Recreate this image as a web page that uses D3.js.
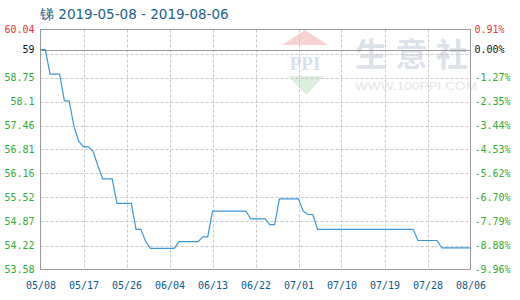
<!DOCTYPE html>
<html>
<head>
<meta charset="utf-8">
<script src="https://cdn.jsdelivr.net/npm/d3@7"></script>
<style>
  html, body { margin: 0; padding: 0; background: #fff; }
  svg { display: block; }
</style>
</head>
<body>
<svg id="chart" width="520" height="300"></svg>
<script>
// Antimony (锑) daily price, 2019-05-08 .. 2019-08-06
const startDate = "2019-05-08";
const endDate = "2019-08-06";
const prices = [
  59.50, 59.50, 58.84, 58.84, 58.84, 58.12, 58.12, 57.43, 57.03, 56.88,
  56.88, 56.76, 56.38, 56.02, 56.02, 56.02, 55.36, 55.36, 55.36, 55.36,
  54.66, 54.66, 54.34, 54.15, 54.15, 54.15, 54.15, 54.15, 54.15, 54.33,
  54.33, 54.33, 54.33, 54.33, 54.46, 54.46, 55.15, 55.15, 55.15, 55.15,
  55.15, 55.15, 55.15, 55.15, 54.94, 54.94, 54.94, 54.94, 54.79, 54.79,
  55.48, 55.48, 55.48, 55.48, 55.48, 55.15, 55.06, 55.06, 54.66, 54.66,
  54.66, 54.66, 54.66, 54.66, 54.66, 54.66, 54.66, 54.66, 54.66, 54.66,
  54.66, 54.66, 54.66, 54.66, 54.66, 54.66, 54.66, 54.66, 54.66, 54.36,
  54.36, 54.36, 54.36, 54.36, 54.16, 54.16, 54.16, 54.16, 54.16, 54.16,
  54.16
];
const yMax = 60.04;
const yMin = 53.58;
const baseValue = 59.50;
// value-axis labels, top to bottom; the second row sits on the base line
const leftTickLabels = ["60.04", "59", "58.75", "58.1", "57.46", "56.81",
                        "56.16", "55.52", "54.87", "54.22", "53.58"];
const rightTickLabels = ["0.91%", "0.00%", "-1.27%", "-2.35%", "-3.44%", "-4.53%",
                         "-5.62%", "-6.70%", "-7.79%", "-8.88%", "-9.96%"];
const xTickLabels = ["05/08", "05/17", "05/26", "06/04", "06/13", "06/22",
                     "07/01", "07/10", "07/19", "07/28", "08/06"];

const parse = d3.utcParse("%Y-%m-%d");
const t0 = parse(startDate);
const t1 = parse(endDate);
const DAY = 86400000;
const series = prices.map((v, i) => ({ date: new Date(+t0 + i * DAY), value: v }));

const svg = d3.select("#chart");
const plotLeft = 40.5, plotRight = 470.5, plotTop = 29.5, plotBottom = 269.5;

const x = d3.scaleUtc().domain([t0, t1]).range([plotLeft, plotRight]);
const y = d3.scaleLinear().domain([yMin, yMax]).range([plotBottom, plotTop]);

// evenly spaced horizontal grid values (10 intervals)
const gridValues = d3.range(11).map(i => yMax - i * (yMax - yMin) / 10);
const xTickDates = xTickLabels.map((_, i) => new Date(+t0 + i * 9 * DAY));

// label positions: top, base line, then the remaining grid rows
const labelValues = [yMax, baseValue].concat(gridValues.slice(2));
const labelColor = i => i === 0 ? "#ee3333" : (i === 1 ? "#111" : "#33aa33");

// watermark
const wm = svg.append("g").attr("class", "watermark");
wm.append("path")
  .attr("d", "M282,45 L305,30 L328,45 Z")
  .attr("fill", "#f6d3d0");
wm.append("text")
  .attr("x", 305).attr("y", 70)
  .attr("text-anchor", "middle")
  .attr("font-family", "Liberation Serif, serif")
  .attr("font-weight", "bold")
  .attr("font-size", 19)
  .attr("fill", "#d9e1ee")
  .text("PPI");
wm.append("path")
  .attr("d", "M288,76 L324,76 L306,95 Z")
  .attr("fill", "#dcefdc");
wm.append("text")
  .attr("x", 355).attr("y", 66)
  .attr("font-family", "Noto Sans CJK SC, sans-serif")
  .attr("font-size", 32)
  .attr("font-weight", "bold")
  .attr("fill", "#dde2ea")
  .attr("textLength", 113)
  .attr("lengthAdjust", "spacing")
  .text("生意社");
wm.append("text")
  .attr("x", 355).attr("y", 90)
  .attr("font-family", "Liberation Sans, sans-serif")
  .attr("font-size", 11)
  .attr("fill", "#e6e6e6")
  .attr("textLength", 122)
  .attr("lengthAdjust", "spacingAndGlyphs")
  .text("WWW.100PPI.COM");

// grid
const grid = svg.append("g").attr("class", "grid");
grid.selectAll("line.h").data(gridValues.slice(1, -1)).join("line")
  .attr("class", "h")
  .attr("x1", plotLeft).attr("x2", plotRight)
  .attr("y1", d => Math.round(y(d)) + 0.5).attr("y2", d => Math.round(y(d)) + 0.5)
  .attr("stroke", "#c8c8c8").attr("stroke-dasharray", "3,2");
grid.selectAll("line.v").data(xTickDates.slice(1, -1)).join("line")
  .attr("class", "v")
  .attr("x1", d => Math.round(x(d)) + 0.5).attr("x2", d => Math.round(x(d)) + 0.5)
  .attr("y1", plotTop).attr("y2", plotBottom)
  .attr("stroke", "#c8c8c8").attr("stroke-dasharray", "3,2");

// frame
svg.append("rect")
  .attr("x", plotLeft).attr("y", plotTop)
  .attr("width", plotRight - plotLeft).attr("height", plotBottom - plotTop)
  .attr("fill", "none").attr("stroke", "#999");

// base line
svg.append("line")
  .attr("x1", plotLeft).attr("x2", plotRight)
  .attr("y1", Math.round(y(baseValue)) + 0.5).attr("y2", Math.round(y(baseValue)) + 0.5)
  .attr("stroke", "#999").attr("stroke-width", 1.2);

// price line
const line = d3.line().x(d => x(d.date)).y(d => y(d.value));
svg.append("path")
  .datum(series)
  .attr("fill", "none")
  .attr("stroke", "#3b97d8")
  .attr("stroke-width", 1.2)
  .attr("d", line);

const labelFont = "DejaVu Sans Mono, monospace";

// left axis labels (price)
const axisLeft = d3.axisLeft(y).tickValues(labelValues)
  .tickFormat((d, i) => leftTickLabels[i]).tickSize(0).tickPadding(6);
const gL = svg.append("g").attr("transform", `translate(${plotLeft},0)`).call(axisLeft);
gL.select(".domain").remove();
gL.selectAll("text")
  .attr("font-family", labelFont).attr("font-size", 10)
  .attr("fill", (d, i) => labelColor(i));

// right axis labels (change from base)
const axisRight = d3.axisRight(y).tickValues(labelValues)
  .tickFormat((d, i) => rightTickLabels[i]).tickSize(0).tickPadding(4);
const gR = svg.append("g").attr("transform", `translate(${plotRight},0)`).call(axisRight);
gR.select(".domain").remove();
gR.selectAll("text")
  .attr("font-family", labelFont).attr("font-size", 10)
  .attr("fill", (d, i) => labelColor(i));

// bottom axis labels
const axisBottom = d3.axisBottom(x).tickValues(xTickDates)
  .tickFormat((d, i) => xTickLabels[i]).tickSize(0).tickPadding(12);
const gB = svg.append("g").attr("transform", `translate(0,${plotBottom})`).call(axisBottom);
gB.select(".domain").remove();
gB.selectAll("text")
  .attr("font-family", labelFont).attr("font-size", 10)
  .attr("fill", "#0d5a8c");

// title
svg.append("text")
  .attr("x", 40).attr("y", 19)
  .attr("font-family", "DejaVu Sans, sans-serif")
  .attr("font-size", 13.5)
  .attr("fill", "#1b5f8c")
  .text(`锑 ${startDate} - ${endDate}`);
</script>
</body>
</html>
